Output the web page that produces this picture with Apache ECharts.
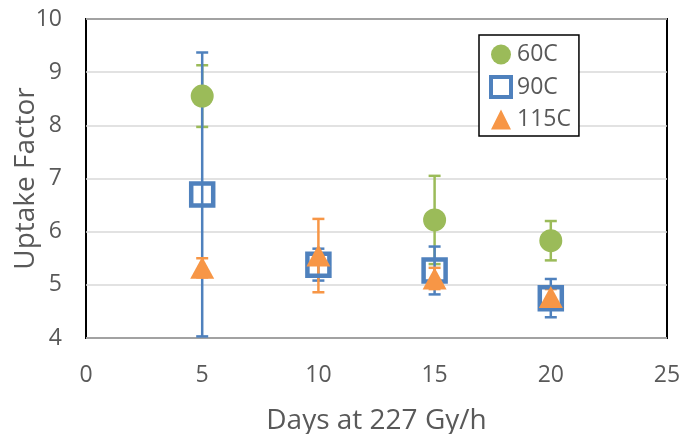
<!DOCTYPE html>
<html>
<head>
<meta charset="utf-8">
<script src="https://cdn.jsdelivr.net/npm/echarts@6/dist/echarts.min.js"></script>
<style>
  html, body { margin: 0; padding: 0; background: #fff; }
  #chart { width: 680px; height: 434px; }
</style>
</head>
<body>
<div id="chart"></div>
<script>
// Exposure time in days
const days60 = [5, 15, 20];
const days90 = [5, 10, 15, 20];
const days115 = [5, 10, 15, 20];

// Mean uptake factor per temperature
const mean60 = [8.55, 6.22, 5.83];
const mean90 = [6.70, 5.38, 5.27, 4.75];
const mean115 = [5.32, 5.55, 5.12, 4.77];

// Error bar half-widths (± one standard deviation)
const err60 = [0.58, 0.83, 0.37];
const err90 = [2.67, 0.30, 0.45, 0.36];
const err115 = [0.18, 0.69, 0.20, 0.15];

const seriesNames = ['60C', '90C', '115C'];
const xTicks = [0, 5, 10, 15, 20, 25];
const yTicks = [4, 5, 6, 7, 8, 9, 10];

const GREEN = '#9BBB59', BLUE = '#4F81BD', ORANGE = '#F79646';
const TEXT = '#595959';
const FONT = '"Open Sans", Lato, sans-serif';

function points(xs, ys) { return xs.map((x, i) => [x, ys[i]]); }
function bars(xs, ys, es) { return xs.map((x, i) => [x, ys[i] - es[i], ys[i] + es[i]]); }

function errorBarSeries(name, data, color) {
  return {
    type: 'custom',
    name: name + ' error',
    data: data,
    silent: true,
    renderItem: function (params, api) {
      const x = api.value(0);
      const lo = api.coord([x, api.value(1)]);
      const hi = api.coord([x, api.value(2)]);
      const cap = 6;
      const style = { stroke: color, lineWidth: 2.5 };
      return {
        type: 'group',
        children: [
          { type: 'line', shape: { x1: lo[0], y1: lo[1], x2: hi[0], y2: hi[1] }, style: style },
          { type: 'line', shape: { x1: lo[0] - cap, y1: lo[1], x2: lo[0] + cap, y2: lo[1] }, style: style },
          { type: 'line', shape: { x1: hi[0] - cap, y1: hi[1], x2: hi[0] + cap, y2: hi[1] }, style: style }
        ]
      };
    },
    encode: { x: 0, y: [1, 2] }
  };
}

const chart = echarts.init(document.getElementById('chart'), null, { renderer: 'canvas' });

chart.setOption({
  animation: false,
  backgroundColor: '#fff',
  grid: {
    left: 86, top: 19, right: 13, bottom: 96,
    containLabel: false,
    outerBoundsMode: 'none',
    show: true, borderColor: '#000', borderWidth: 2, backgroundColor: 'transparent'
  },
  legend: {
    data: [
      { name: seriesNames[0], icon: 'circle', itemStyle: { color: GREEN } },
      { name: seriesNames[1], icon: 'rect', itemStyle: { color: '#fff', borderColor: BLUE, borderWidth: 4 } },
      { name: seriesNames[2], icon: 'triangle', itemStyle: { color: ORANGE } }
    ],
    orient: 'vertical',
    left: 479, top: 35,
    padding: [8, 8, 5, 10],
    itemWidth: 20, itemHeight: 20,
    itemGap: 9,
    borderColor: '#000', borderWidth: 1.5,
    backgroundColor: '#fff',
    textStyle: { color: TEXT, fontSize: 23, fontFamily: FONT, padding: [0, 0, 0, 1] }
  },
  xAxis: {
    type: 'value',
    min: xTicks[0], max: xTicks[xTicks.length - 1], interval: 5,
    name: 'Days at 227 Gy/h',
    nameLocation: 'middle', nameGap: 69,
    nameMoveOverlap: false,
    nameTextStyle: { color: TEXT, fontSize: 28, fontFamily: FONT },
    axisLine: { show: false },
    axisTick: { show: false },
    splitLine: { show: false },
    axisLabel: { color: TEXT, fontSize: 23, fontFamily: FONT, margin: 26 }
  },
  yAxis: {
    type: 'value',
    min: yTicks[0], max: yTicks[yTicks.length - 1], interval: 1,
    name: 'Uptake Factor',
    nameLocation: 'middle', nameGap: 46,
    nameMoveOverlap: false,
    nameTextStyle: { color: TEXT, fontSize: 28, fontFamily: FONT },
    axisLine: { show: false },
    axisTick: { show: false },
    splitLine: { show: true, lineStyle: { color: '#D9D9D9', width: 1.5 } },
    axisLabel: { color: TEXT, fontSize: 23, fontFamily: FONT, margin: 24 }
  },
  series: [
    errorBarSeries(seriesNames[0], bars(days60, mean60, err60), GREEN),
    {
      type: 'scatter', name: seriesNames[0],
      data: points(days60, mean60),
      symbol: 'circle', symbolSize: 23,
      itemStyle: { color: GREEN, opacity: 1 }
    },
    errorBarSeries(seriesNames[1], bars(days90, mean90, err90), BLUE),
    {
      type: 'scatter', name: seriesNames[1],
      data: points(days90, mean90),
      symbol: 'rect', symbolSize: 22,
      itemStyle: { color: 'rgba(255,255,255,0)', borderColor: BLUE, borderWidth: 4.5, opacity: 1 }
    },
    errorBarSeries(seriesNames[2], bars(days115, mean115, err115), ORANGE),
    {
      type: 'scatter', name: seriesNames[2],
      data: points(days115, mean115),
      symbol: 'triangle', symbolSize: [24, 22],
      itemStyle: { color: ORANGE, opacity: 1 }
    }
  ]
});
</script>
</body>
</html>
